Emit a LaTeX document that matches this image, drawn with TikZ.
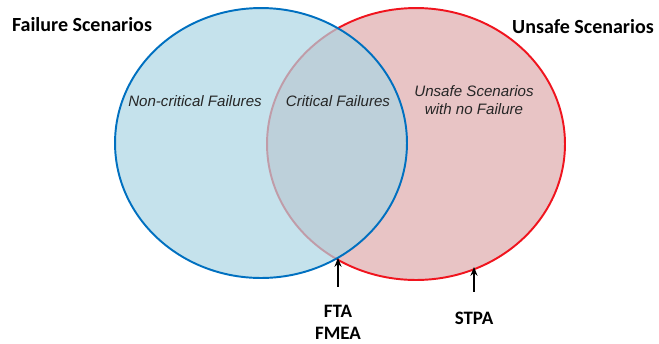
\documentclass[tikz,border=0pt]{standalone}
\usepackage{fontspec}
\setmainfont{Carlito}
\newfontfamily\labelfont{Liberation Sans}
\usetikzlibrary{shapes.geometric,arrows.meta}
\definecolor{setblue}{RGB}{0,112,192}
\definecolor{setred}{RGB}{240,20,30}
\definecolor{fillblue}{RGB}{172,214,228}
\definecolor{fillred}{RGB}{232,196,197}

\begin{document}
\begin{tikzpicture}[x=0.02cm, y=-0.02cm,
		settitle/.style={font=\fontsize{11.4}{13}\selectfont\bfseries},
		region/.style={font=\labelfont\fontsize{8.6}{10}\selectfont\itshape, align=center, text=black!85},
		method/.style={font=\fontsize{10.8}{12}\selectfont\bfseries},
		pointer/.style={-{Stealth[length=5pt,width=4pt]}, line width=0.75pt}]
		\useasboundingbox (0,0) rectangle (659,343);
		% ===== the two sets =====
		\node[ellipse, draw=setred, line width=1.1pt, fill=fillred, minimum width=5.96cm, minimum height=5.44cm, inner sep=0pt] (unsafe) at (416,144) {};
		\node[ellipse, draw=setblue, line width=1.1pt, fill=fillblue, fill opacity=0.7, minimum width=5.84cm, minimum height=5.40cm, inner sep=0pt] (failure) at (261,143) {};
		% ===== set titles =====
		\node[settitle] (failtitle) at (82,25) {Failure Scenarios};
		\node[settitle] (unsafetitle) at (583,27) {Unsafe Scenarios};
		% ===== region labels =====
		\node[region] (noncrit) at (195,101) {Non-critical Failures};
		\node[region] (crit) at (338,101) {Critical Failures};
		\node[region] (nofail) at (474,100) {Unsafe Scenarios\\with no Failure};
		% ===== analysis methods =====
		\coordinate (meet) at (338,258);
		\coordinate (stpatip) at (474,267);
		\node[method] (fta) at (338,311) {FTA};
		\node[method] (fmea) at (338,333) {FMEA};
		\node[method] (stpa) at (474,318) {STPA};
		\draw[pointer] (fta.north) ++(0,-12) -- (meet);
		\draw[pointer] (stpa.north) ++(0,-14) -- (stpatip);
	\end{tikzpicture}
\end{document}
